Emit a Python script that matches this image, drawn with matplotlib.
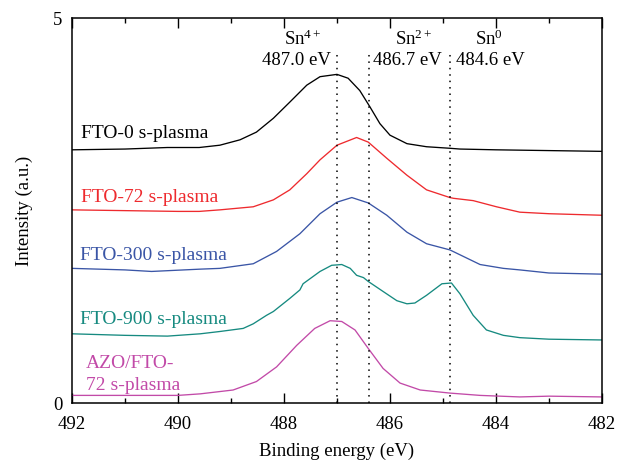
import numpy as np
import matplotlib
matplotlib.use("Agg")
import matplotlib.pyplot as plt
from matplotlib.ticker import MultipleLocator

# ---------- dados ----------
energy_0 = [492, 491, 490.2, 489.6, 489.21, 488.83, 488.52, 488.20, 487.89, 487.57,
            487.32, 487.0, 486.79, 486.57, 486.38, 486.19, 486.0, 485.68, 485.31,
            484.87, 484.68, 484, 483, 482]
fto_0 = [3.29, 3.30, 3.32, 3.32, 3.35, 3.42, 3.52, 3.70, 3.91, 4.13,
         4.24, 4.27, 4.22, 4.06, 3.85, 3.63, 3.48, 3.37, 3.33,
         3.31, 3.30, 3.29, 3.28, 3.27]

energy_72 = [492, 491, 490, 489.6, 489.21, 488.58, 488.2, 487.89, 487.57, 487.32,
             487.0, 486.63, 486.41, 486.06, 485.68, 485.31, 484.87, 484.8, 484.43,
             483.99, 483.55, 483, 482]
fto_72 = [2.51, 2.50, 2.49, 2.49, 2.51, 2.55, 2.64, 2.77, 2.98, 3.16,
          3.35, 3.45, 3.39, 3.18, 2.96, 2.77, 2.67, 2.66, 2.63,
          2.55, 2.48, 2.46, 2.44]

energy_300 = [492, 491, 490.5, 489.58, 489.21, 488.58, 488.14, 487.7, 487.32, 487.0,
              486.72, 486.41, 486.06, 485.68, 485.31, 484.87, 484.3, 483.86, 483.55,
              483.0, 482]
fto_300 = [1.75, 1.73, 1.71, 1.74, 1.75, 1.81, 1.97, 2.20, 2.46, 2.61,
           2.67, 2.60, 2.44, 2.22, 2.07, 1.99, 1.80, 1.75, 1.73,
           1.69, 1.675]

energy_900 = [492, 491, 490.2, 489.58, 489.21, 488.77, 488.58, 488.33, 488.2, 487.89,
              487.7, 487.64, 487.32, 487.10, 486.91, 486.75, 486.63, 486.50, 486.41,
              486.13, 485.87, 485.68, 485.53, 485.31, 485.02, 484.84, 484.68, 484.43,
              484.18, 483.86, 483.55, 483.0, 482]
fto_900 = [0.90, 0.88, 0.87, 0.90, 0.93, 0.97, 1.03, 1.14, 1.19, 1.36,
           1.47, 1.55, 1.71, 1.79, 1.80, 1.75, 1.66, 1.63, 1.58,
           1.45, 1.33, 1.29, 1.30, 1.40, 1.55, 1.56, 1.42, 1.14,
           0.95, 0.88, 0.85, 0.83, 0.82]

energy_azo = [492, 491, 490, 489.58, 488.96, 488.52, 488.14, 487.76, 487.42, 487.13,
              486.91, 486.66, 486.41, 486.13, 485.81, 485.43, 484.87, 484.30, 483.55,
              483, 482]
azo_72 = [0.10, 0.10, 0.10, 0.12, 0.17, 0.28, 0.47, 0.75, 0.97, 1.07,
          1.06, 0.95, 0.71, 0.45, 0.26, 0.17, 0.13, 0.10, 0.08,
          0.09, 0.08]

labels = ["FTO-0 s-plasma", "FTO-72 s-plasma", "FTO-300 s-plasma",
          "FTO-900 s-plasma", "AZO/FTO-\n72 s-plasma"]
colors = ["#000000", "#ee2a2e", "#3a55a6", "#168a80", "#c24aa8"]

# linhas de referência (posição desenhada) e rótulos dos estados
ref_lines = [487.0, 486.4, 484.87]
states = ["Sn$^{4+}$", "Sn$^{2+}$", "Sn$^{0}$"]
state_energies = ["487.0 eV", "486.7 eV", "484.6 eV"]
# -------------------------------------------

plt.rcParams['font.family'] = ['Liberation Serif', 'DejaVu Serif']
plt.rcParams['mathtext.fontset'] = 'custom'
plt.rcParams['mathtext.rm'] = 'Liberation Serif'
plt.rcParams['mathtext.it'] = 'Liberation Serif:italic'

FS = 13.5

fig = plt.figure(figsize=(6.29, 4.66), dpi=100)
ax = fig.add_axes([0.1145, 0.135, 0.8425, 0.826])

series = [(energy_0, fto_0), (energy_72, fto_72), (energy_300, fto_300),
          (energy_900, fto_900), (energy_azo, azo_72)]
for (e, y), c in zip(series, colors):
    ax.plot(e, y, color=c, lw=0.95)

for x in ref_lines:
    ax.plot([x, x], [0, 4.56], color='black', lw=1.1, ls=(0, (1, 3.2)))

ax.set_xlim(492, 482)
ax.set_ylim(0, 5)

# rótulos das curvas (va='baseline' -> linha de base da última linha)
label_pos = [(491.83, 3.44), (491.83, 2.61), (491.85, 1.86), (491.85, 1.03), (491.74, 0.17)]
for (x, y), txt, c in zip(label_pos, labels, colors):
    ax.text(x, y, txt, color=c, fontsize=14, ha='left', va='baseline', linespacing=1.4)

# estados do Sn
state_x = [487.65, 485.55, 484.14]
energy_x = [487.77, 485.68, 484.11]
for sx, ex, s, en in zip(state_x, energy_x, states, state_energies):
    ax.text(sx, 4.65, s, fontsize=FS, ha='center', va='baseline')
    ax.text(ex, 4.39, en, fontsize=FS, ha='center', va='baseline')

ax.xaxis.set_major_locator(MultipleLocator(2))
ax.xaxis.set_minor_locator(MultipleLocator(1))
ax.tick_params(axis='x', which='major', direction='in', length=7, width=1,
               top=True, labelsize=FS, pad=9)
ax.tick_params(axis='x', which='minor', direction='in', length=3.5, width=1, top=True)
ax.set_yticks([0, 5])
ax.tick_params(axis='y', length=0, labelsize=FS, pad=7)
for sp in ax.spines.values():
    sp.set_linewidth(1.1)

ax.set_xlabel('Binding energy (eV)', fontsize=FS, labelpad=7)
ax.set_ylabel('Intensity (a.u.)', fontsize=FS, labelpad=14)

fig.savefig('out.png', dpi=100)
